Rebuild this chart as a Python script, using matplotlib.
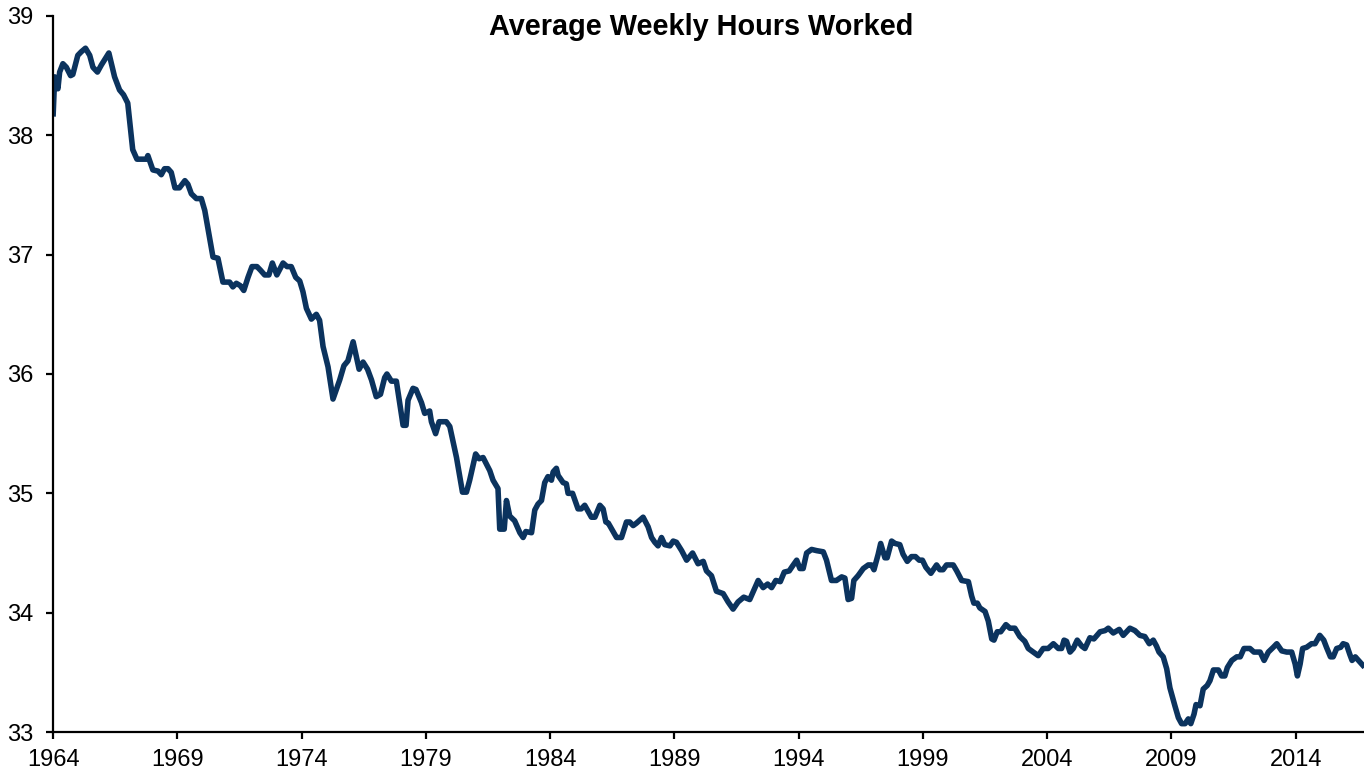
import matplotlib.pyplot as plt
import numpy as np

# Average weekly hours (decimal year, hours)
years = [
    1964.00, 1964.06, 1964.19, 1964.26, 1964.39, 1964.53, 1964.70, 1964.79, 1964.99, 1965.13,
    1965.30, 1965.47, 1965.60, 1965.78, 1965.94, 1966.24, 1966.47, 1966.67, 1966.83, 1967.00,
    1967.20, 1967.37, 1967.75, 1967.81, 1968.01, 1968.22, 1968.35, 1968.48, 1968.62, 1968.75,
    1968.90, 1969.08, 1969.30, 1969.42, 1969.56, 1969.76, 1969.96, 1970.10, 1970.43, 1970.63,
    1970.83, 1971.10, 1971.23, 1971.37, 1971.53, 1971.67, 1971.84, 1972.00, 1972.20, 1972.34,
    1972.51, 1972.68, 1972.82, 1973.00, 1973.25, 1973.41, 1973.58, 1973.76, 1973.92, 1974.05,
    1974.19, 1974.39, 1974.59, 1974.72, 1974.86, 1975.06, 1975.26, 1975.53, 1975.70, 1975.86,
    1976.07, 1976.31, 1976.47, 1976.65, 1976.81, 1977.00, 1977.17, 1977.34, 1977.43, 1977.61,
    1977.81, 1978.08, 1978.20, 1978.28, 1978.48, 1978.60, 1978.82, 1978.95, 1979.15, 1979.22,
    1979.39, 1979.53, 1979.82, 1979.96, 1980.23, 1980.47, 1980.63, 1980.76, 1981.00, 1981.14,
    1981.30, 1981.57, 1981.70, 1981.90, 1981.97, 1982.15, 1982.24, 1982.37, 1982.57, 1982.78,
    1982.91, 1983.02, 1983.25, 1983.38, 1983.51, 1983.65, 1983.78, 1983.91, 1984.05, 1984.12,
    1984.25, 1984.32, 1984.52, 1984.65, 1984.72, 1984.90, 1985.12, 1985.25, 1985.39, 1985.66,
    1985.80, 1986.00, 1986.13, 1986.24, 1986.34, 1986.67, 1986.87, 1987.07, 1987.20, 1987.34,
    1987.47, 1987.74, 1987.94, 1988.08, 1988.21, 1988.34, 1988.48, 1988.61, 1988.82, 1988.95,
    1989.08, 1989.29, 1989.49, 1989.73, 1989.95, 1990.16, 1990.29, 1990.49, 1990.69, 1990.96,
    1991.16, 1991.36, 1991.56, 1991.79, 1992.03, 1992.37, 1992.57, 1992.75, 1992.91, 1993.08,
    1993.26, 1993.42, 1993.62, 1993.75, 1993.92, 1994.05, 1994.18, 1994.32, 1994.52, 1994.72,
    1994.99, 1995.12, 1995.32, 1995.52, 1995.73, 1995.86, 1995.99, 1996.13, 1996.22, 1996.39,
    1996.60, 1996.80, 1996.93, 1997.03, 1997.20, 1997.30, 1997.47, 1997.56, 1997.74, 1997.88,
    1998.07, 1998.20, 1998.37, 1998.54, 1998.70, 1998.85, 1998.98, 1999.12, 1999.32, 1999.55,
    1999.68, 1999.81, 1999.95, 2000.22, 2000.36, 2000.56, 2000.83, 2000.96, 2001.05, 2001.19,
    2001.29, 2001.50, 2001.63, 2001.77, 2001.86, 2001.99, 2002.13, 2002.34, 2002.50, 2002.70,
    2002.90, 2003.10, 2003.24, 2003.44, 2003.64, 2003.84, 2004.04, 2004.25, 2004.45, 2004.58,
    2004.68, 2004.78, 2004.92, 2005.05, 2005.21, 2005.39, 2005.52, 2005.72, 2005.88, 2006.13,
    2006.33, 2006.46, 2006.66, 2006.90, 2007.06, 2007.33, 2007.53, 2007.73, 2007.93, 2008.11,
    2008.27, 2008.40, 2008.50, 2008.67, 2008.81, 2008.94, 2009.14, 2009.28, 2009.41, 2009.55,
    2009.68, 2009.78, 2009.91, 2009.99, 2010.15, 2010.28, 2010.44, 2010.55, 2010.69, 2010.89,
    2011.02, 2011.15, 2011.25, 2011.43, 2011.63, 2011.77, 2011.92, 2012.16, 2012.32, 2012.57,
    2012.73, 2012.90, 2013.10, 2013.24, 2013.44, 2013.64, 2013.84, 2013.98, 2014.07, 2014.18,
    2014.28, 2014.44, 2014.64, 2014.78, 2014.97, 2015.13, 2015.24, 2015.40, 2015.51, 2015.65,
    2015.81, 2015.91, 2016.05, 2016.18, 2016.27, 2016.40, 2016.53, 2016.70,
]
hours = [
    38.18, 38.49, 38.39, 38.53, 38.60, 38.57, 38.50, 38.51, 38.67, 38.70,
    38.73, 38.67, 38.57, 38.53, 38.59, 38.69, 38.49, 38.38, 38.34, 38.27,
    37.88, 37.80, 37.80, 37.83, 37.71, 37.70, 37.67, 37.72, 37.72, 37.69,
    37.56, 37.56, 37.62, 37.59, 37.51, 37.47, 37.47, 37.37, 36.98, 36.97,
    36.77, 36.77, 36.73, 36.76, 36.74, 36.70, 36.81, 36.90, 36.90, 36.87,
    36.83, 36.83, 36.93, 36.83, 36.93, 36.90, 36.90, 36.81, 36.78, 36.69,
    36.55, 36.46, 36.50, 36.45, 36.23, 36.06, 35.79, 35.95, 36.07, 36.11,
    36.27, 36.04, 36.10, 36.04, 35.95, 35.81, 35.83, 35.97, 36.00, 35.94,
    35.94, 35.57, 35.57, 35.78, 35.88, 35.87, 35.76, 35.67, 35.69, 35.60,
    35.50, 35.60, 35.60, 35.56, 35.30, 35.01, 35.01, 35.11, 35.33, 35.29,
    35.30, 35.19, 35.11, 35.04, 34.70, 34.70, 34.94, 34.81, 34.77, 34.67,
    34.63, 34.68, 34.67, 34.86, 34.91, 34.94, 35.09, 35.14, 35.11, 35.18,
    35.21, 35.15, 35.09, 35.08, 35.00, 35.00, 34.87, 34.87, 34.90, 34.80,
    34.80, 34.90, 34.87, 34.76, 34.75, 34.63, 34.63, 34.76, 34.76, 34.73,
    34.75, 34.80, 34.72, 34.63, 34.59, 34.56, 34.63, 34.57, 34.56, 34.60,
    34.59, 34.52, 34.44, 34.50, 34.41, 34.43, 34.35, 34.31, 34.18, 34.16,
    34.09, 34.03, 34.09, 34.13, 34.11, 34.27, 34.21, 34.24, 34.21, 34.27,
    34.26, 34.34, 34.35, 34.39, 34.44, 34.37, 34.37, 34.50, 34.53, 34.52,
    34.51, 34.44, 34.27, 34.27, 34.30, 34.29, 34.11, 34.12, 34.27, 34.31,
    34.37, 34.40, 34.40, 34.36, 34.49, 34.58, 34.46, 34.46, 34.60, 34.58,
    34.57, 34.49, 34.43, 34.47, 34.47, 34.44, 34.44, 34.38, 34.33, 34.40,
    34.36, 34.36, 34.40, 34.40, 34.35, 34.27, 34.26, 34.14, 34.08, 34.08,
    34.04, 34.01, 33.93, 33.78, 33.77, 33.84, 33.84, 33.90, 33.87, 33.87,
    33.80, 33.76, 33.70, 33.67, 33.64, 33.70, 33.70, 33.74, 33.70, 33.70,
    33.77, 33.76, 33.67, 33.70, 33.77, 33.72, 33.70, 33.79, 33.78, 33.84,
    33.85, 33.87, 33.83, 33.86, 33.81, 33.87, 33.85, 33.81, 33.80, 33.74,
    33.77, 33.72, 33.67, 33.63, 33.53, 33.37, 33.22, 33.12, 33.07, 33.07,
    33.11, 33.07, 33.15, 33.23, 33.22, 33.36, 33.39, 33.43, 33.52, 33.52,
    33.47, 33.47, 33.54, 33.60, 33.63, 33.63, 33.70, 33.70, 33.67, 33.67,
    33.60, 33.67, 33.71, 33.74, 33.68, 33.67, 33.67, 33.57, 33.47, 33.57,
    33.70, 33.71, 33.74, 33.74, 33.81, 33.77, 33.71, 33.63, 33.63, 33.70,
    33.71, 33.74, 33.73, 33.65, 33.60, 33.63, 33.60, 33.56,
]

x_ticks = list(range(1964, 2015, 5))
y_ticks = [33, 34, 35, 36, 37, 38, 39]

plt.rcParams['font.family'] = ['Liberation Sans', 'DejaVu Sans']

fig = plt.figure(figsize=(13.64, 7.79), dpi=100)
ax = fig.add_axes([0.0390, 0.0603, 0.9610, 0.9192])

ax.plot(years, hours, color='#0b335e', lw=4.0, solid_joinstyle='round')

ax.set_xlim(1964, 2016.75)
ax.set_ylim(33, 39)
ax.set_xticks(x_ticks)
ax.set_xticklabels([str(y) for y in x_ticks])
ax.set_yticks(y_ticks)
ax.set_yticklabels([str(v) for v in y_ticks])

for side in ['top', 'right']:
    ax.spines[side].set_visible(False)
for side in ['left', 'bottom']:
    ax.spines[side].set_linewidth(1.6)
    ax.spines[side].set_color('black')

ax.tick_params(axis='both', direction='out', length=5, width=1.6, labelsize=17)
ax.tick_params(axis='x', pad=7)
ax.tick_params(axis='y', pad=9)

fig.text(0.514, 0.965, "Average Weekly Hours Worked", ha='center', va='center',
         fontsize=20.8, fontweight='bold')

fig.savefig('out.png', dpi=100)
plt.close(fig)
